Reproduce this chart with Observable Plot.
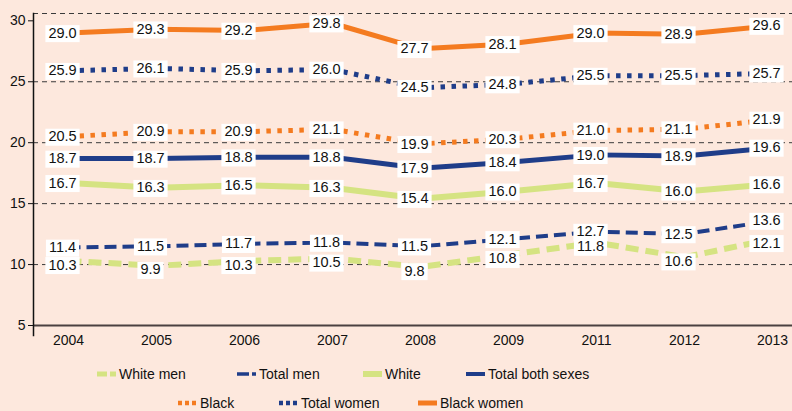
<!DOCTYPE html>
<html><head><meta charset="utf-8">
<script src="https://cdn.jsdelivr.net/npm/d3@7"></script>
<script src="https://cdn.jsdelivr.net/npm/@observablehq/plot@0.6"></script>
<style>
html,body{margin:0;padding:0;background:#fde8dd;}
body{width:792px;height:411px;overflow:hidden;font-family:"Liberation Sans",Arial,sans-serif;}
#chart svg{display:block;}
#legend{position:relative;width:792px;height:59px;font-size:14px;color:#111;}
.item{position:absolute;display:flex;align-items:center;white-space:nowrap;height:16px;}
.item svg{display:block;margin-right:3px;}
</style></head><body>
<div id="chart"></div><div id="legend"></div>
<script>
// ---- data ----
const years = ["2004","2005","2006","2007","2008","2009","2011","2012","2013"];
const blackWomen = [29.0,29.3,29.2,29.8,27.7,28.1,29.0,28.9,29.6];
const totalWomen = [25.9,26.1,25.9,26.0,24.5,24.8,25.5,25.5,25.7];
const black      = [20.5,20.9,20.9,21.1,19.9,20.3,21.0,21.1,21.9];
const totalBoth  = [18.7,18.7,18.8,18.8,17.9,18.4,19.0,18.9,19.6];
const white      = [16.7,16.3,16.5,16.3,15.4,16.0,16.7,16.0,16.6];
const totalMen   = [11.4,11.5,11.7,11.8,11.5,12.1,12.7,12.5,13.6];
const whiteMen   = [10.3,9.9,10.3,10.5,9.8,10.8,11.8,10.6,12.1];
const yTicks = [5,10,15,20,25,30];
const yDomain = [5, 30.6];

// ---- styles ----
const ORANGE = "#f47b20", NAVY = "#1f3d89", GREEN = "#d5e382";
const series = [
  {name:"White men",        values: whiteMen,   color: GREEN,  width: 6, dash: "13,7",   dy: 4, legDash:"10,3", legW:5},
  {name:"Total men",        values: totalMen,   color: NAVY,   width: 4, dash: "12,6",   dy: 0, legDash:"12,3", legW:3.5},
  {name:"White",            values: white,      color: GREEN,  width: 6, dash: null,     dy: 0, legDash:null,   legW:6},
  {name:"Total both sexes", values: totalBoth,  color: NAVY,   width: 5, dash: null,     dy: 0, legDash:null,   legW:4},
  {name:"Black",            values: black,      color: ORANGE, width: 5, dash: "4.5,6.5",dy: 0, legDash:"4,3",  legW:4.5},
  {name:"Total women",      values: totalWomen, color: NAVY,   width: 5, dash: "4.5,6.5",dy: 0, legDash:"4,3",  legW:4.5},
  {name:"Black women",      values: blackWomen, color: ORANGE, width: 5, dash: null,     dy: 0, legDash:null,   legW:5}
];
const rowsOf = s => s.values.map((v,i) => ({series: s.name, year: years[i], value: v}));

const marks = [
  Plot.ruleY(yTicks.slice(1, -1).concat([yDomain[1]]), {stroke:"#3a3a3a", strokeWidth:1, strokeDasharray:"5,4"}),
  Plot.ruleY([yDomain[0]], {stroke:"#4a4040", strokeWidth:2}),
  Plot.frame({anchor:"left", stroke:"#111", strokeWidth:1.5, insetBottom:-10}),
  Plot.axisY({ticks: yTicks, tickSize:5, tickPadding:3, fontSize:14, label:null, stroke:"#111", color:"#111"}),
  Plot.axisX({tickSize:0, tickPadding:10, fontSize:14, label:null, color:"#111"}),
  ...series.map(s => Plot.line(rowsOf(s), {x:"year", y:"value", stroke:s.color, strokeWidth:s.width,
        strokeDasharray: s.dash || undefined, strokeLinecap:"butt", strokeLinejoin:"round"})),
  ...series.map(s => Plot.text(rowsOf(s), {x:"year", y:"value", text: d => d.value.toFixed(1),
        dx:-6, dy:s.dy, fontSize:14.5, fill:"#111"}))
];

const plot = Plot.plot({
  width: 792, height: 352,
  marginLeft: 33, marginRight: 0, marginTop: 13, marginBottom: 27,
  style: {background:"transparent", fontFamily:"'Liberation Sans', Arial, sans-serif", fontSize:"14px"},
  x: {type:"point", domain: years, range:[67, 773], padding: 0},
  y: {domain: yDomain},
  marks
});
document.getElementById("chart").append(plot);

// white boxes behind value labels
plot.querySelectorAll('g[aria-label="text"] text').forEach(t => {
  const b = t.getBBox();
  const r = document.createElementNS("http://www.w3.org/2000/svg", "rect");
  r.setAttribute("x", b.x - 3);
  r.setAttribute("y", b.y + 0.5);
  r.setAttribute("width", b.width + 6);
  r.setAttribute("height", b.height + 1);
  r.setAttribute("fill", "white");
  const tr = t.getAttribute("transform");
  if (tr) r.setAttribute("transform", tr);
  t.parentNode.insertBefore(r, t);
});

// legend
const legendPos = {
  "White men":[97,14], "Total men":[237,14], "White":[363,14], "Total both sexes":[466,14],
  "Black":[178,43], "Total women":[279,43], "Black women":[418,43]
};
const leg = document.getElementById("legend");
series.forEach(s => {
  const [lx, ly] = legendPos[s.name];
  const it = document.createElement("div");
  it.className = "item";
  it.style.left = lx + "px"; it.style.top = ly + "px";
  it.innerHTML = `<svg width="19" height="8"><line x1="0" x2="19" y1="4" y2="4" stroke="${s.color}" stroke-width="${s.legW}" ${s.legDash ? `stroke-dasharray="${s.legDash}"` : ""}/></svg><span>${s.name}</span>`;
  leg.append(it);
});
</script>
</body></html>
